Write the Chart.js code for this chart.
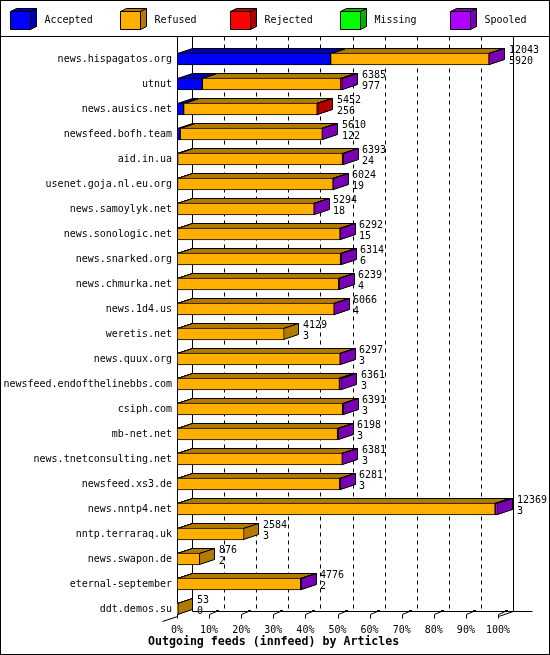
<!DOCTYPE html>
<html>
<head>
<meta charset="utf-8">
<script src="https://cdn.jsdelivr.net/npm/chart.js@4.4.1/dist/chart.umd.min.js"></script>
<style>
  html, body { margin: 0; padding: 0; background: #fff; }
  canvas { display: block; }
</style>
</head>
<body>
<canvas id="feeds" width="550" height="655"></canvas>
<script>
/* innfeed outgoing feeds, 3D stacked bars (GD style look). Bars are % of the busiest peer. */
const hosts = [
  "news.hispagatos.org", "utnut", "news.ausics.net", "newsfeed.bofh.team", "aid.in.ua",
  "usenet.goja.nl.eu.org", "news.samoylyk.net", "news.sonologic.net", "news.snarked.org",
  "news.chmurka.net", "news.1d4.us", "weretis.net", "news.quux.org",
  "newsfeed.endofthelinebbs.com", "csiph.com", "mb-net.net", "news.tnetconsulting.net",
  "newsfeed.xs3.de", "news.nntp4.net", "nntp.terraraq.uk", "news.swapon.de",
  "eternal-september", "ddt.demos.su"];
const offered  = [12043, 6385, 5452, 5610, 6393, 6024, 5294, 6292, 6314, 6239, 6066, 4129,
                  6297, 6361, 6391, 6198, 6381, 6281, 12369, 2584, 876, 4776, 53];
const accepted = [5920, 977, 256, 122, 24, 19, 18, 15, 6, 4, 4, 3, 3, 3, 3, 3, 3, 3, 3, 3, 2, 2, 0];
const refused  = [6103, 5333, 5146, 5478, 6354, 5995, 5266, 6267, 6298, 6225, 6052, 4126,
                  6284, 6258, 6378, 6185, 6368, 6268, 12256, 2581, 874, 4764, 53];
const rejected = [0, 60, 50, 0, 0, 0, 0, 0, 0, 0, 0, 0, 0, 0, 0, 0, 0, 0, 0, 0, 0, 0, 0];
const missing  = [0, 0, 0, 0, 0, 0, 0, 0, 0, 0, 0, 0, 0, 0, 0, 0, 0, 0, 0, 0, 0, 0, 0];
const spooled  = [20, 15, 0, 10, 15, 10, 10, 10, 10, 10, 10, 0, 10, 100, 10, 10, 10, 10, 110, 0, 0, 10, 0];
const seriesNames  = ["Accepted", "Refused", "Rejected", "Missing", "Spooled"];
const seriesColors = ["#0000ff", "#ffaf00", "#ff0000", "#00ff00", "#af00ff"];
const pctTicks = [0, 10, 20, 30, 40, 50, 60, 70, 80, 90, 100];
const chartTitle = "Outgoing feeds (innfeed) by Articles";

const MONO = '"DejaVu Sans Mono", "Liberation Mono", monospace';
const DX = 15, DY = 5;           // depth of the extruded boxes
const WALL_TOP = 36.5;
const maxOffered = Math.max(...offered);
const pct = arr => arr.map(v => v / maxOffered * 100);

const shade = (hex, f) => {
  const n = parseInt(hex.slice(1), 16);
  const c = [(n >> 16) & 255, (n >> 8) & 255, n & 255].map(v => Math.round(v * f));
  return `rgb(${c[0]},${c[1]},${c[2]})`;
};

function poly(ctx, pts, fill) {
  ctx.beginPath();
  ctx.moveTo(pts[0][0], pts[0][1]);
  pts.slice(1).forEach(p => ctx.lineTo(p[0], p[1]));
  ctx.closePath();
  if (fill) { ctx.fillStyle = fill; ctx.fill(); }
  ctx.stroke();
}
function seg(ctx, x1, y1, x2, y2) {
  ctx.beginPath(); ctx.moveTo(x1, y1); ctx.lineTo(x2, y2); ctx.stroke();
}

const box3d = {
  id: "box3d",
  beforeDatasetsDraw(chart) {
    const ctx = chart.ctx, xs = chart.scales.x, area = chart.chartArea;
    const floorF = Math.round(area.bottom - 5.5) + 0.5, floorB = floorF - DY;
    const fx = t => Math.round(xs.getPixelForValue(t)) + 0.5;
    ctx.save();
    ctx.strokeStyle = "#000"; ctx.lineWidth = 1;

    // back wall: solid ends, dashed in between
    pctTicks.forEach(t => {
      ctx.setLineDash(t === 0 || t === 100 ? [] : [4, 4]);
      seg(ctx, fx(t) + DX, WALL_TOP, fx(t) + DX, floorB);
    });
    ctx.setLineDash([]);
    // front left edge + floor
    seg(ctx, fx(0), WALL_TOP, fx(0), floorF);
    seg(ctx, fx(0) - DX, floorF + DY, fx(0), floorF);
    seg(ctx, fx(0) + DX, floorB, fx(100) + DX + 19, floorB);
    seg(ctx, fx(100), floorF, fx(100) + DX, floorB);
    pctTicks.forEach(t => {
      const x = fx(t);
      seg(ctx, x, floorF - 2, x, floorF + 2);
      seg(ctx, x, floorF - 2, x + 7, floorB);
      ctx.fillStyle = "#000";
      ctx.fillRect(x + 6.5, floorB - 1.5, 3, 2);
    });

    // top + right faces of every stacked segment, left to right
    hosts.forEach((h, i) => {
      chart.data.datasets.forEach((ds, d) => {
        if (!ds.data[i]) return;
        const el = chart.getDatasetMeta(d).data[i];
        const L = Math.round(el.base) + 0.5;
        const R = Math.max(L, Math.round(el.x) - 0.5);
        const T = Math.round(el.y - el.height / 2) + 0.5;
        const B = Math.round(el.y + el.height / 2) - 0.5;
        const dark = shade(ds.backgroundColor, 0.7);
        poly(ctx, [[L, T], [L + DX, T - DY], [R + DX, T - DY], [R, T]], dark);
        poly(ctx, [[R, T], [R + DX, T - DY], [R + DX, B - DY], [R, B]], dark);
      });
    });
    ctx.restore();
  },
  afterDatasetsDraw(chart) {
    const ctx = chart.ctx, xs = chart.scales.x, ys = chart.scales.y;
    ctx.save();
    ctx.fillStyle = "#000";
    ctx.font = "10px " + MONO;
    ctx.textBaseline = "middle";
    ctx.textAlign = "left";
    hosts.forEach((h, i) => {
      const xEnd = Math.round(xs.getPixelForValue(offered[i] / maxOffered * 100));
      const y = ys.getPixelForValue(i);
      ctx.fillText(String(offered[i]), xEnd + DX + 4, y - 9);
      ctx.fillText(String(accepted[i]), xEnd + DX + 4, y + 2.5);
    });
    ctx.restore();
  },
  afterDraw(chart) {
    const ctx = chart.ctx;
    ctx.save();
    ctx.strokeStyle = "#000"; ctx.lineWidth = 1;
    ctx.strokeRect(0.5, 0.5, 549, 654);
    seg(ctx, 0, WALL_TOP, 550, WALL_TOP);

    // legend with little cubes
    ctx.font = "10px " + MONO;
    ctx.textBaseline = "middle";
    chart.data.datasets.forEach((ds, d) => {
      const x0 = 10.5 + 110 * d, y0 = 11.5, w = 20, hgt = 18, dx = 6, dy = 3;
      const dark = shade(ds.backgroundColor, 0.7);
      poly(ctx, [[x0, y0], [x0 + dx, y0 - dy], [x0 + w + dx, y0 - dy], [x0 + w, y0]], dark);
      poly(ctx, [[x0 + w, y0], [x0 + w + dx, y0 - dy], [x0 + w + dx, y0 + hgt - dy], [x0 + w, y0 + hgt]], dark);
      poly(ctx, [[x0, y0], [x0 + w, y0], [x0 + w, y0 + hgt], [x0, y0 + hgt]], ds.backgroundColor);
      ctx.fillStyle = "#000";
      ctx.fillText(ds.label, x0 + 34, 20);
    });

    ctx.font = "bold 11.6px " + MONO;
    ctx.fillText(chartTitle, 148, 642);
    ctx.restore();
  },
};

const seriesValues = [accepted, refused, rejected, missing, spooled];
Chart.defaults.color = "#000";
Chart.defaults.font.family = MONO;
Chart.defaults.font.size = 10;

new Chart(document.getElementById("feeds"), {
  type: "bar",
  data: {
    labels: hosts,
    datasets: seriesNames.map((name, d) => ({
      label: name,
      data: pct(seriesValues[d]),
      backgroundColor: seriesColors[d],
      borderColor: "#000",
      borderWidth: 1,
      borderSkipped: false,
      barThickness: 12,
    })),
  },
  options: {
    indexAxis: "y",
    responsive: false,
    animation: false,
    devicePixelRatio: 1,
    layout: { padding: { top: 46.5, right: 52, bottom: 11.5, left: 0 } },
    plugins: { legend: { display: false }, tooltip: { enabled: false } },
    scales: {
      x: {
        stacked: true, min: 0, max: 100,
        grid: { display: false, drawTicks: false }, border: { display: false },
        ticks: { stepSize: 10, padding: 3, maxRotation: 0, callback: v => v + "%" },
        afterFit(s) { s.height = 22; },
      },
      y: {
        stacked: true,
        grid: { display: false, drawTicks: false }, border: { display: false },
        ticks: { padding: 5, autoSkip: false },
        afterFit(s) { s.width = 177; },
      },
    },
  },
  plugins: [box3d],
});
</script>
</body>
</html>
